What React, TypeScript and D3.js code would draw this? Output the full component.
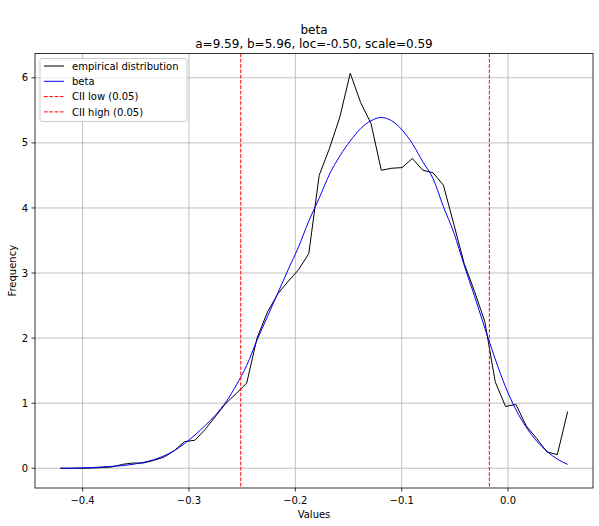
import React from "react";
import * as d3 from "d3";

const binCenters = [
  -0.4209, -0.4112, -0.4014, -0.3917, -0.382, -0.3722, -0.3625, -0.3528, -0.343, -0.3333,
  -0.3236, -0.3138, -0.3041, -0.2944, -0.2846, -0.2749, -0.2652, -0.2554, -0.2457, -0.236,
  -0.2262, -0.2165, -0.2068, -0.197, -0.1873, -0.1776, -0.1678, -0.1581, -0.1484, -0.1386,
  -0.1289, -0.1192, -0.1094, -0.0997, -0.09, -0.0802, -0.0705, -0.0608, -0.051, -0.0413,
  -0.0316, -0.0218, -0.0121, -0.0024, 0.0074, 0.0171, 0.0268, 0.0366, 0.0463, 0.056,
];

const empirical = [
  0.0, 0.0, 0.0, 0.003, 0.01, 0.02, 0.06, 0.08, 0.08, 0.12,
  0.17, 0.27, 0.41, 0.43, 0.6, 0.8, 1.0, 1.15, 1.31, 2.0,
  2.4, 2.68, 2.87, 3.05, 3.3, 4.5, 4.92, 5.4, 6.07, 5.62,
  5.3, 4.58, 4.61, 4.62, 4.76, 4.58, 4.54, 4.35, 3.75, 3.15,
  2.72, 2.25, 1.33, 0.95, 0.98, 0.65, 0.46, 0.25, 0.21, 0.87,
];

const betaFit = [
  0.0, 0.0, 0.005, 0.01, 0.02, 0.03, 0.04, 0.06, 0.09, 0.13,
  0.19, 0.27, 0.38, 0.51, 0.66, 0.82, 1.02, 1.28, 1.58, 1.97,
  2.33, 2.69, 3.05, 3.4, 3.8, 4.15, 4.52, 4.8, 5.03, 5.22,
  5.34, 5.39, 5.34, 5.2, 4.99, 4.71, 4.45, 4.02, 3.62, 3.12,
  2.65, 2.15, 1.68, 1.25, 0.9, 0.63, 0.42, 0.26, 0.14, 0.06,
];

const ciiLow = -0.2513;
const ciiHigh = -0.0176;

const xTicks = [-0.4, -0.3, -0.2, -0.1, 0.0];
const yTicks = [0, 1, 2, 3, 4, 5, 6];

const titleLines = ["beta", "a=9.59, b=5.96, loc=-0.50, scale=0.59"];
const legendLabels = ["empirical distribution", "beta", "CII low (0.05)", "CII high (0.05)"];

const W = 599;
const H = 526;
const L = 35;
const R = 593;
const T = 53.5;
const B = 488;
const FONT = "DejaVu Sans, sans-serif";

const fmt = (v: number) => {
  const s = v.toFixed(1);
  return s.startsWith("-") ? "\u2212" + s.slice(1) : s;
};

export default function App() {
  const xmin = d3.min(binCenters)!;
  const xmax = d3.max(binCenters)!;
  const xpad = (xmax - xmin) * 0.05;
  const ymax = d3.max(empirical)!;
  const ypad = ymax * 0.05;
  const x = d3.scaleLinear().domain([xmin - xpad, xmax + xpad]).range([L, R]);
  const y = d3.scaleLinear().domain([0 - ypad, ymax + ypad]).range([B, T]);

  const empLine = d3
    .line<number>()
    .x((_, i) => x(binCenters[i]))
    .y((d) => y(d));
  const betaLine = d3
    .line<number>()
    .x((_, i) => x(binCenters[i]))
    .y((d) => y(d))
    .curve(d3.curveMonotoneX);

  const gridColor = "#b0b0b0";
  const legX = 40;
  const legY = 58.5;
  const rowY = [66, 81.3, 96.6, 111.9];
  const legendStyles = [
    { stroke: "black", dash: undefined },
    { stroke: "blue", dash: undefined },
    { stroke: "red", dash: "3.7,1.6" },
    { stroke: "red", dash: "3.7,1.6" },
  ];

  return (
    <svg
      width={W}
      height={H}
      style={{ position: "absolute", left: 0, top: 0, display: "block", background: "white" }}
      fontFamily={FONT}
    >
      <rect x={0} y={0} width={W} height={H} fill="white" />
      <defs>
        <clipPath id="plotclip">
          <rect x={L} y={T} width={R - L} height={B - T} />
        </clipPath>
      </defs>
      {/* grid */}
      {xTicks.map((t) => (
        <line key={"gx" + t} x1={x(t)} x2={x(t)} y1={T} y2={B} stroke={gridColor} strokeWidth={0.8} />
      ))}
      {yTicks.map((t) => (
        <line key={"gy" + t} x1={L} x2={R} y1={y(t)} y2={y(t)} stroke={gridColor} strokeWidth={0.8} />
      ))}
      <g clipPath="url(#plotclip)">
        <path d={empLine(empirical)!} fill="none" stroke="black" strokeWidth={1} strokeLinejoin="round" />
        <path d={betaLine(betaFit)!} fill="none" stroke="blue" strokeWidth={1} />
        <line x1={x(ciiLow)} x2={x(ciiLow)} y1={T} y2={B} stroke="red" strokeWidth={1} strokeDasharray="3.7,1.6" />
        <line x1={x(ciiHigh)} x2={x(ciiHigh)} y1={T} y2={B} stroke="red" strokeWidth={1} strokeDasharray="3.7,1.6" />
      </g>
      {/* spines */}
      <rect x={L} y={T} width={R - L} height={B - T} fill="none" stroke="black" strokeWidth={0.8} />
      {/* x ticks */}
      {xTicks.map((t) => (
        <g key={"xt" + t}>
          <line x1={x(t)} x2={x(t)} y1={B} y2={B + 3.5} stroke="black" strokeWidth={0.8} />
          <text x={x(t)} y={B + 16} fontSize={10} textAnchor="middle" fill="black">
            {fmt(t)}
          </text>
        </g>
      ))}
      {/* y ticks */}
      {yTicks.map((t) => (
        <g key={"yt" + t}>
          <line x1={L - 3.5} x2={L} y1={y(t)} y2={y(t)} stroke="black" strokeWidth={0.8} />
          <text x={L - 7} y={y(t) + 3.6} fontSize={10} textAnchor="end" fill="black">
            {t}
          </text>
        </g>
      ))}
      {/* labels */}
      <text x={(L + R) / 2} y={517.5} fontSize={10} textAnchor="middle" fill="black">
        Values
      </text>
      <text
        transform={`translate(15.5, ${(T + B) / 2}) rotate(-90)`}
        fontSize={10}
        textAnchor="middle"
        fill="black"
      >
        Frequency
      </text>
      {/* title */}
      <text x={(L + R) / 2} y={34} fontSize={12} textAnchor="middle" fill="black">
        {titleLines[0]}
      </text>
      <text x={(L + R) / 2} y={48} fontSize={12} textAnchor="middle" fill="black">
        {titleLines[1]}
      </text>
      {/* legend */}
      <rect
        x={legX}
        y={legY}
        width={147}
        height={63}
        rx={2}
        ry={2}
        fill="white"
        fillOpacity={0.8}
        stroke="#cccccc"
        strokeWidth={1}
      />
      {legendLabels.map((lab, i) => (
        <g key={"lg" + i}>
          <line
            x1={44}
            x2={64}
            y1={rowY[i]}
            y2={rowY[i]}
            stroke={legendStyles[i].stroke}
            strokeWidth={1}
            strokeDasharray={legendStyles[i].dash}
          />
          <text x={72} y={rowY[i] + 3.6} fontSize={10} fill="black">
            {lab}
          </text>
        </g>
      ))}
    </svg>
  );
}
